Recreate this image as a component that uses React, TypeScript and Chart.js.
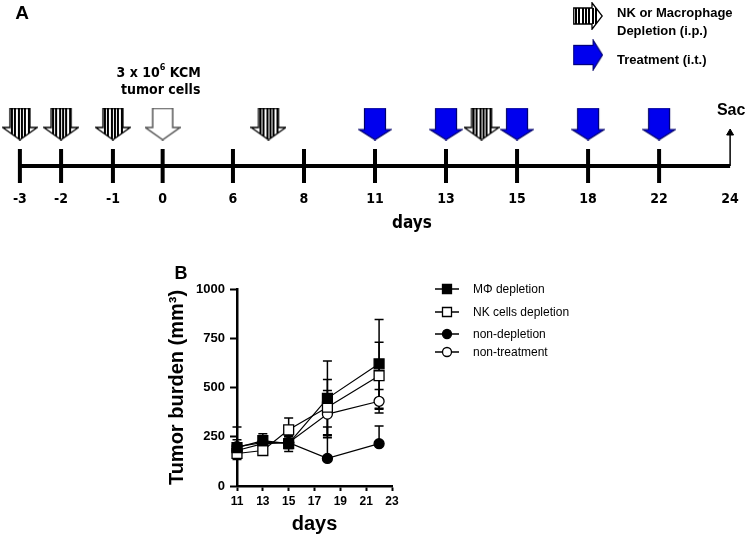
import React, { useEffect, useRef } from "react";
import { Chart, registerables } from "chart.js";

Chart.register(...registerables);

// ---------- Panel A: timeline ----------
const timelineDays = [-3, -2, -1, 0, 6, 8, 11, 13, 15, 18, 22, 24];
const depletionDays = [-3, -2, -1, 7, 14];
const tumorCellDays = [0];
const treatmentDays = [11, 13, 15, 18, 22];
const sacDay = 24;

// ---------- Panel B: tumor burden ----------
const measureDays = [11, 13, 15, 18, 22];
const xTickDays = [11, 13, 15, 17, 19, 21, 23];
const yTickValues = [0, 250, 500, 750, 1000];
const seriesNames = ["MΦ depletion", "NK cells depletion", "non-depletion", "non-treatment"];
const macrophageDepletion = [195, 230, 215, 445, 620];
const macrophageErr = [40, 35, 40, 190, 225];
const nkDepletion = [165, 180, 285, 400, 560];
const nkErr = [30, 20, 60, 140, 170];
const nonDepletion = [200, 220, 220, 140, 215];
const nonDepletionErrUp = [100, 30, 30, 160, 90];
const nonDepletionErrDown = [20, 20, 20, 0, 0];
const nonTreatment = [180, 215, 220, 365, 430];
const nonTreatmentErr = [20, 20, 30, 120, 60];

// ---------- layout (schematic spacing of the timeline) ----------
const timelineSlots = [0, 0.58, 1.31, 2.01, 3, 4, 5, 6, 7, 8, 9, 10];
function daySlot(day: number): number {
  for (let i = 0; i < timelineDays.length - 1; i++) {
    const a = timelineDays[i];
    const b = timelineDays[i + 1];
    if (day >= a && day <= b) {
      return timelineSlots[i] + ((timelineSlots[i + 1] - timelineSlots[i]) * (day - a)) / (b - a);
    }
  }
  return timelineSlots[timelineSlots.length - 1];
}

const SANS = "'Liberation Sans', Arial, sans-serif";
const NARROW = "'Liberation Sans Narrow', 'DejaVu Sans Condensed', 'Liberation Sans', Arial, sans-serif";

function makeArrow(kind: "striped" | "open" | "blue"): HTMLCanvasElement {
  const blue = kind === "blue";
  const W = blue ? 34 : 36;
  const H = 33;
  const shaftW = blue ? 21 : 20;
  const headY = blue ? 22 : 20;
  const c = document.createElement("canvas");
  c.width = W;
  c.height = H;
  const ctx = c.getContext("2d")!;
  const sx0 = (W - shaftW) / 2;
  const sx1 = sx0 + shaftW;
  const path = () => {
    ctx.beginPath();
    ctx.moveTo(sx0, 0.75);
    ctx.lineTo(sx1, 0.75);
    ctx.lineTo(sx1, headY);
    ctx.lineTo(W - 0.75, headY);
    ctx.lineTo(W / 2, H - 0.75);
    ctx.lineTo(0.75, headY);
    ctx.lineTo(sx0, headY);
    ctx.closePath();
  };
  path();
  if (blue) {
    ctx.fillStyle = "#0000ee";
    ctx.fill();
    ctx.strokeStyle = "#00006a";
    ctx.lineWidth = 1.2;
    ctx.stroke();
  } else if (kind === "open") {
    ctx.fillStyle = "#ffffff";
    ctx.fill();
    ctx.strokeStyle = "#555555";
    ctx.lineWidth = 1.5;
    ctx.stroke();
  } else {
    ctx.fillStyle = "#ffffff";
    ctx.fill();
    ctx.save();
    path();
    ctx.clip();
    ctx.fillStyle = "#000000";
    for (let x = sx0 + 1; x < sx1 - 0.5; x += 3.3) {
      ctx.fillRect(Math.round(x), 0, 2, H);
    }
    ctx.restore();
    path();
    ctx.strokeStyle = "#000000";
    ctx.lineWidth = 1.3;
    ctx.stroke();
  }
  return c;
}

// right-pointing striped arrow for the legend (stripes stay vertical)
function makeRightStriped(): HTMLCanvasElement {
  const W = 30;
  const H = 28;
  const c = document.createElement("canvas");
  c.width = W;
  c.height = H;
  const ctx = c.getContext("2d")!;
  const headX = 19;
  const sy0 = 6;
  const sy1 = 22;
  const path = () => {
    ctx.beginPath();
    ctx.moveTo(0.75, sy0);
    ctx.lineTo(headX, sy0);
    ctx.lineTo(headX, 0.75);
    ctx.lineTo(W - 0.75, H / 2);
    ctx.lineTo(headX, H - 0.75);
    ctx.lineTo(headX, sy1);
    ctx.lineTo(0.75, sy1);
    ctx.closePath();
  };
  path();
  ctx.fillStyle = "#fff";
  ctx.fill();
  ctx.save();
  path();
  ctx.clip();
  ctx.fillStyle = "#000";
  for (let x = 2; x < headX + 4; x += 3.3) {
    ctx.fillRect(Math.round(x), sy0, 2, sy1 - sy0);
  }
  ctx.restore();
  path();
  ctx.strokeStyle = "#000";
  ctx.lineWidth = 1.3;
  ctx.stroke();
  return c;
}

function buildTop(canvas: HTMLCanvasElement): Chart {
  const stripedImg = makeArrow("striped");
  const openImg = makeArrow("open");
  const blueImg = makeArrow("blue");
  const legendStriped = makeRightStriped();
  const ARROW_Y = 42;
  const SAC_TIP = 33;
  const sacSlot = daySlot(sacDay);

  const textPlugin = {
    id: "panelAText",
    afterDraw(chart: any) {
      const ctx = chart.ctx as CanvasRenderingContext2D;
      const xs = chart.scales.x;
      ctx.save();
      ctx.fillStyle = "#000";
      ctx.textBaseline = "middle";
      // panel letter
      ctx.font = `bold 19px ${SANS}`;
      ctx.textAlign = "center";
      ctx.fillText("A", 22, 14);
      // tumor cells annotation
      const cx = xs.getPixelForValue(daySlot(tumorCellDays[0]));
      ctx.font = `bold 14px ${NARROW}`;
      const p1 = "3 x 10";
      const p3 = " KCM";
      const w1 = ctx.measureText(p1).width;
      const w3 = ctx.measureText(p3).width;
      ctx.font = `bold 9px ${NARROW}`;
      const w2 = ctx.measureText("6").width;
      const total = w1 + w2 + w3;
      const x0 = cx - 4 - total / 2;
      ctx.textAlign = "left";
      ctx.font = `bold 14px ${NARROW}`;
      ctx.fillText(p1, x0, 73);
      ctx.font = `bold 9px ${NARROW}`;
      ctx.fillText("6", x0 + w1, 68);
      ctx.font = `bold 14px ${NARROW}`;
      ctx.fillText(p3, x0 + w1 + w2, 73);
      ctx.textAlign = "center";
      ctx.fillText("tumor cells", cx - 2, 90);
      // Sac
      ctx.font = `bold 16px ${SANS}`;
      ctx.fillText("Sac", xs.getPixelForValue(sacSlot) + 1, 111);
      // axis title
      ctx.font = `bold 17px ${NARROW}`;
      ctx.fillText("days", 412, 224);
      // legend
      ctx.drawImage(legendStriped, 573, 2);
      ctx.save();
      ctx.translate(588, 55);
      ctx.rotate(-Math.PI / 2);
      ctx.scale(0.92, 0.92);
      ctx.drawImage(blueImg, -blueImg.width / 2, -blueImg.height / 2);
      ctx.restore();
      ctx.textAlign = "left";
      ctx.font = `bold 13px ${SANS}`;
      ctx.fillText("NK or Macrophage", 617, 13);
      ctx.fillText("Depletion (i.p.)", 617, 31);
      ctx.fillText("Treatment (i.t.)", 617, 60);
      ctx.restore();
    },
  };

  return new Chart(canvas, {
    type: "scatter",
    data: {
      datasets: [
        {
          data: treatmentDays.map((d) => ({ x: daySlot(d), y: ARROW_Y })),
          pointStyle: blueImg as any,
          pointRadius: 5,
          clip: false as any,
        },
        {
          data: tumorCellDays.map((d) => ({ x: daySlot(d), y: ARROW_Y })),
          pointStyle: openImg as any,
          pointRadius: 5,
          clip: false as any,
        },
        {
          data: depletionDays.map((d) => ({ x: daySlot(d), y: ARROW_Y })),
          pointStyle: stripedImg as any,
          pointRadius: 5,
          clip: false as any,
        },
        {
          data: [{ x: sacSlot, y: SAC_TIP }],
          pointStyle: "triangle",
          pointRadius: 4,
          backgroundColor: "#000",
          borderColor: "#000",
          borderWidth: 1,
          clip: false as any,
        },
        {
          type: "line",
          data: [
            { x: sacSlot, y: 0 },
            { x: sacSlot, y: SAC_TIP },
          ],
          borderColor: "#000",
          borderWidth: 1.5,
          pointRadius: 0,
          clip: false as any,
        } as any,
        {
          data: timelineDays.filter((d) => d !== sacDay).map((d) => ({ x: daySlot(d), y: 0 })),
          pointStyle: "line",
          rotation: 90,
          pointRadius: 17,
          borderWidth: 4,
          borderColor: "#000",
          clip: false as any,
        },
        {
          type: "line",
          data: [
            { x: daySlot(timelineDays[0]), y: 0 },
            { x: sacSlot, y: 0 },
          ],
          borderColor: "#000",
          borderWidth: 4,
          pointRadius: 0,
          clip: false as any,
        } as any,
      ],
    },
    options: {
      responsive: false,
      animation: false,
      devicePixelRatio: 1,
      events: [],
      layout: { padding: 0, autoPadding: false },
      plugins: { legend: { display: false }, tooltip: { enabled: false } },
      scales: {
        x: {
          type: "linear",
          min: -0.28,
          max: 10.28,
          grid: { display: false, drawTicks: false },
          border: { display: false },
          afterBuildTicks: (s: any) => {
            s.ticks = timelineDays.map((d) => ({ value: daySlot(d) }));
          },
          afterFit: (s: any) => {
            s.height = 57;
          },
          ticks: {
            padding: 8,
            color: "#000",
            autoSkip: false,
            maxRotation: 0,
            font: { family: NARROW, size: 14, weight: "bold" },
            callback: (_v: any, i: number) => String(timelineDays[i]),
          },
        },
        y: { display: false, min: -17, max: 166 },
      },
    } as any,
    plugins: [textPlugin],
  });
}

function buildBottom(canvas: HTMLCanvasElement): Chart {
  const styles = [
    { style: "rect", radius: 7, fill: "#000" },
    { style: "rect", radius: 7, fill: "#fff" },
    { style: "circle", radius: 5, fill: "#000" },
    { style: "circle", radius: 5, fill: "#fff" },
  ];
  const values = [macrophageDepletion, nkDepletion, nonDepletion, nonTreatment];
  const ups = [macrophageErr, nkErr, nonDepletionErrUp, nonTreatmentErr];
  const downs = [macrophageErr, nkErr, nonDepletionErrDown, nonTreatmentErr];

  const datasets = values.map((vals, k) => ({
    label: seriesNames[k],
    data: measureDays.map((d, i) => ({ x: d, y: vals[i] })),
    borderColor: "#000",
    borderWidth: 1.2,
    pointStyle: styles[k].style,
    pointRadius: styles[k].radius,
    pointBackgroundColor: styles[k].fill,
    pointBorderColor: "#000",
    pointBorderWidth: 1.3,
    clip: false,
    errUp: ups[k],
    errDown: downs[k],
  }));

  const errorPlugin = {
    id: "errorBars",
    beforeDatasetsDraw(chart: any) {
      const ctx = chart.ctx as CanvasRenderingContext2D;
      const ys = chart.scales.y;
      ctx.save();
      ctx.strokeStyle = "#000";
      ctx.lineWidth = 1.5;
      chart.data.datasets.forEach((ds: any, k: number) => {
        const meta = chart.getDatasetMeta(k);
        meta.data.forEach((el: any, i: number) => {
          const v = ds.data[i].y;
          const up = ds.errUp[i];
          const dn = ds.errDown[i];
          const x = el.x;
          const yT = ys.getPixelForValue(v + up);
          const yB = ys.getPixelForValue(v - dn);
          ctx.beginPath();
          ctx.moveTo(x, yT);
          ctx.lineTo(x, yB);
          if (up > 0) {
            ctx.moveTo(x - 4.5, yT);
            ctx.lineTo(x + 4.5, yT);
          }
          if (dn > 0) {
            ctx.moveTo(x - 4.5, yB);
            ctx.lineTo(x + 4.5, yB);
          }
          ctx.stroke();
        });
      });
      ctx.restore();
    },
  };

  const legendPlugin = {
    id: "panelBLegend",
    afterDraw(chart: any) {
      const ctx = chart.ctx as CanvasRenderingContext2D;
      const rows = [49, 72, 94, 112];
      ctx.save();
      ctx.fillStyle = "#000";
      ctx.font = `bold 18px ${SANS}`;
      ctx.textAlign = "center";
      ctx.textBaseline = "middle";
      ctx.fillText("B", 181, 34);
      ctx.font = `12px ${SANS}`;
      ctx.textAlign = "left";
      seriesNames.forEach((name, k) => {
        const y = rows[k];
        ctx.strokeStyle = "#000";
        ctx.lineWidth = 1.5;
        ctx.beginPath();
        ctx.moveTo(435, y);
        ctx.lineTo(459, y);
        ctx.stroke();
        ctx.lineWidth = 1.3;
        ctx.fillStyle = styles[k].fill;
        ctx.beginPath();
        if (styles[k].style === "rect") {
          ctx.rect(447 - 4.5, y - 4.5, 9, 9);
        } else {
          ctx.arc(447, y, 4.5, 0, Math.PI * 2);
        }
        ctx.fill();
        ctx.stroke();
        ctx.fillStyle = "#000";
        ctx.fillText(name, 473, y + 1);
      });
      ctx.restore();
    },
  };

  return new Chart(canvas, {
    type: "line",
    data: { datasets: datasets as any },
    options: {
      responsive: false,
      animation: false,
      devicePixelRatio: 1,
      events: [],
      layout: { padding: { left: 161, right: 358, top: 49, bottom: 0 }, autoPadding: false },
      plugins: { legend: { display: false }, tooltip: { enabled: false } },
      scales: {
        x: {
          type: "linear",
          min: 11,
          max: 23,
          afterBuildTicks: (s: any) => {
            s.ticks = xTickDays.map((v) => ({ value: v }));
          },
          afterFit: (s: any) => {
            s.height = 50;
          },
          grid: {
            display: true,
            drawOnChartArea: false,
            drawTicks: true,
            tickLength: 5,
            tickWidth: 2,
            tickColor: "#000",
            color: "#000",
          },
          border: { display: true, color: "#000", width: 2.5 },
          ticks: {
            color: "#000",
            padding: 3,
            autoSkip: false,
            maxRotation: 0,
            font: { family: SANS, size: 12, weight: "bold" },
            callback: (v: any) => String(v),
          },
          title: {
            display: true,
            text: "days",
            color: "#000",
            font: { family: SANS, size: 20, weight: "bold" },
            padding: { top: 0, bottom: 0 },
          },
        },
        y: {
          type: "linear",
          min: 0,
          max: 1000,
          afterBuildTicks: (s: any) => {
            s.ticks = yTickValues.map((v) => ({ value: v }));
          },
          afterFit: (s: any) => {
            s.width = 76;
          },
          grid: {
            display: true,
            drawOnChartArea: false,
            drawTicks: true,
            tickLength: 7,
            tickWidth: 2,
            tickColor: "#000",
            color: "#000",
          },
          border: { display: true, color: "#000", width: 2.5 },
          ticks: {
            color: "#000",
            padding: 5,
            font: { family: SANS, size: 13, weight: "bold" },
            callback: (v: any) => String(v),
          },
          title: {
            display: true,
            text: "Tumor burden (mm³)",
            color: "#000",
            font: { family: SANS, size: 20, weight: "bold" },
            padding: { top: 4, bottom: 0 },
          },
        },
      },
    } as any,
    plugins: [errorPlugin, legendPlugin],
  });
}

export default function App() {
  const topRef = useRef<HTMLCanvasElement>(null);
  const botRef = useRef<HTMLCanvasElement>(null);
  useEffect(() => {
    document.body.style.margin = "0";
    const charts = [buildTop(topRef.current!), buildBottom(botRef.current!)];
    return () => charts.forEach((c) => c.destroy());
  }, []);
  return (
    <div style={{ width: 750, height: 536, background: "#fff" }}>
      <canvas ref={topRef} width={750} height={240} style={{ display: "block", width: 750, height: 240 }} />
      <canvas ref={botRef} width={750} height={296} style={{ display: "block", width: 750, height: 296 }} />
    </div>
  );
}
